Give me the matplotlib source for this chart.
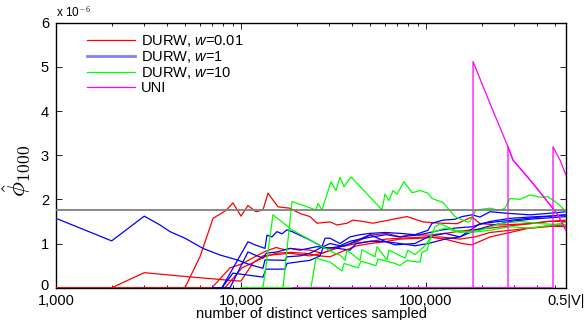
import matplotlib
matplotlib.use("Agg")
import matplotlib.pyplot as plt
import matplotlib.transforms as mtransforms
from matplotlib.lines import Line2D
from matplotlib.ticker import LogLocator, NullFormatter, FixedLocator

plt.rcParams['font.family'] = ['Liberation Sans', 'DejaVu Sans']
plt.rcParams['mathtext.fontset'] = 'cm'
plt.rcParams['mathtext.it'] = 'Liberation Sans:italic'
plt.rcParams['mathtext.rm'] = 'Liberation Sans'

# values are in units of 1e-6
true_phi = 1.76
x_max = 571300  # 0.5|V|

# DURW, w=0.01
red_1_n = [1000, 2000, 3000, 5110, 7060, 9050, 10000, 11610, 13150, 15460, 18400, 20840, 23600,
           27410, 34290, 41840, 49820, 60800, 72370, 102500, 126700, 156500, 177300, 221800,
           284500, 351600, 451000, 571300]
red_1_v = [0, 0, 0.34, 0.25, 0.20, 0.16, 0.15, 0.56, 0.72, 0.75, 0.78, 0.75, 0.72,
           0.78, 0.92, 1.00, 1.05, 1.10, 1.12, 1.15, 1.10, 1.00, 0.97, 1.15,
           1.25, 1.34, 1.38, 1.42]
red_2_n = [1000, 4980, 6000, 7060, 8300, 9050, 10000, 10910, 12050, 13150, 13990, 15850, 18400,
           20840, 23600, 25750, 30280, 33030, 37410, 40310, 45660, 51710, 66320, 78970, 96340,
           119000, 147100, 177300, 195900, 251200, 364900, 456600, 571300]
red_2_v = [0, 0, 0.70, 1.57, 1.75, 1.92, 1.62, 1.86, 1.72, 1.76, 2.14, 1.83, 1.80,
           1.68, 1.61, 1.46, 1.49, 1.42, 1.46, 1.53, 1.50, 1.46, 1.55, 1.61, 1.49,
           1.46, 1.45, 1.60, 1.45, 1.42, 1.45, 1.50, 1.50]
red_3_n = [1000, 6970, 8720, 10130, 11900, 13480, 15460, 17290, 18400, 23600, 27410, 30280,
           34290, 42360, 49820, 61540, 72370, 81950, 102500, 126700, 152700, 177300, 221800,
           284500, 364900, 456600, 571300]
red_3_v = [0, 0, 0.45, 0.54, 0.70, 0.82, 0.91, 0.86, 0.89, 0.85, 0.78, 0.85,
           0.93, 1.04, 1.19, 1.23, 1.15, 1.20, 1.19, 1.23, 1.28, 1.31, 1.35,
           1.40, 1.45, 1.50, 1.53]
red_4_n = [1000, 8190, 10130, 11900, 13480, 15460, 18400, 22180, 26730, 30280, 34290, 42360,
           49820, 61540, 72370, 92810, 119000, 152700, 184100, 221800, 284500, 364900,
           456600, 571300]
red_4_v = [0, 0, 0.45, 0.59, 0.70, 0.78, 0.80, 0.78, 0.72, 0.70, 0.80, 0.95,
           1.00, 1.05, 1.10, 1.12, 1.15, 1.10, 1.15, 1.25, 1.30, 1.35,
           1.40, 1.38]

# DURW, w=1
blue_1_n = [1000, 2000, 3000, 3650, 4130, 4980, 6230, 7700, 9520, 11190, 13150, 13480, 17290,
            17730, 20840, 23600, 27750, 30280, 34290, 38830, 43980, 49820, 60800, 68000, 87200,
            102500, 126700, 152700, 172900, 195900, 251200, 322200, 413300, 571300]
blue_1_v = [1.57, 1.06, 1.62, 1.42, 1.27, 1.12, 0.89, 0.74, 0.63, 0.52, 0.44, 0.63, 0.62,
            0.70, 0.72, 0.78, 0.93, 1.00, 0.95, 1.05, 1.10, 1.20, 1.04, 0.97, 1.00,
            1.15, 1.23, 1.15, 1.30, 1.45, 1.50, 1.55, 1.60, 1.65]
blue_2_n = [7060, 7890, 10910, 11900, 13480, 13820, 14710, 15650, 16660, 17730, 18870, 23600,
            27410, 28460, 30280, 34290, 38830, 43980, 49820, 60050, 72370, 87200, 102500,
            107800, 123600, 143500, 156500, 177300, 195900, 221800, 284500, 364900, 451000,
            571300]
blue_2_v = [0, 0, 1.04, 0.97, 0.89, 1.19, 1.15, 1.27, 1.22, 1.31, 1.27, 1.08,
            0.93, 1.12, 1.12, 1.00, 1.15, 1.20, 1.23, 1.25, 1.23, 1.20, 1.30,
            1.46, 1.53, 1.55, 1.61, 1.65, 1.60, 1.72, 1.68, 1.65, 1.68,
            1.72]
blue_3_n = [7060, 8720, 10910, 11900, 13150, 13650, 15650, 18400, 20840, 25750, 30280, 36500,
            43980, 51070, 60800, 72370, 92810, 119000, 143500, 177300, 221800, 284500,
            364900, 456600, 571300]
blue_3_v = [0, 0, 0.81, 0.74, 0.67, 0.78, 0.81, 0.89, 0.85, 0.93, 0.90, 0.95,
            1.10, 1.15, 1.20, 1.15, 1.20, 1.30, 1.35, 1.38, 1.50, 1.57,
            1.60, 1.62, 1.65]
blue_4_n = [7060, 7890, 9050, 13150, 13650, 17290, 17730, 23600, 26730, 27750, 32220, 38830,
            41840, 49820, 60800, 72370, 87200, 102500, 126700, 152700, 184100, 221800,
            284500, 364900, 456600, 571300]
blue_4_v = [0, 0, 0.33, 0.24, 0.42, 0.42, 0.55, 0.62, 0.72, 0.90, 0.90, 0.85,
            1.00, 1.05, 1.04, 1.00, 0.95, 1.00, 1.10, 1.15, 1.30, 1.40,
            1.50, 1.55, 1.58, 1.61]

# DURW, w=10
green_1_n = [10000, 13150, 14890, 18870, 27410, 32220, 34290, 36500, 37410, 43980, 45100, 53010,
             54350, 61540, 63100, 77030, 79950, 87200, 98760, 106400, 111900, 119000, 143500,
             172900, 221800, 284500, 364900, 456600, 571300]
green_1_v = [0, 0, 1.65, 1.31, 0.93, 0.78, 0.74, 0.62, 0.85, 0.62, 0.86, 0.70,
             0.93, 0.63, 0.85, 0.67, 0.85, 0.75, 0.95, 1.15, 1.38, 1.45, 1.30,
             1.25, 1.30, 1.38, 1.35, 1.40, 1.48]
green_2_n = [10000, 23890, 25430, 30280, 35150, 36050, 42900, 44530, 53670, 55030, 68000, 72370,
             78970, 82970, 92810, 95140, 101250, 107800, 126700, 152700, 195900, 251200,
             322200, 413300, 571300]
green_2_v = [0, 0, 0.67, 0.58, 0.38, 0.55, 0.45, 0.60, 0.50, 0.65, 0.55, 0.50,
             0.62, 0.60, 0.58, 0.80, 0.85, 1.25, 1.35, 1.25, 1.30, 1.45,
             1.50, 1.45, 1.42]
green_3_n = [10000, 16870, 18870, 22180, 25430, 26080, 27410, 30660, 32620, 34290, 36050, 39340,
             48600, 57850, 60050, 63100, 66320, 69710, 76080, 84000, 92810, 102500, 107800,
             123600, 143500, 166600, 172900, 186300, 221800, 251200, 267300, 284500, 322200,
             364900, 413300, 456600, 517000, 571300]
green_3_v = [0, 0, 1.95, 1.85, 1.76, 1.91, 1.76, 2.40, 2.20, 2.50, 2.29, 2.51,
             2.10, 1.76, 2.12, 1.97, 2.20, 2.12, 2.40, 2.15, 2.20, 2.14, 2.02,
             1.93, 1.61, 1.49, 1.50, 1.76, 1.80, 1.75, 1.80, 2.02, 2.00,
             2.10, 2.05, 2.06, 1.90, 1.72]

# UNI
uni_1_n = [19000, 179600, 179600, 221800, 277500, 295300, 378700, 510600, 571300]
uni_1_v = [0, 0, 5.12, 4.17, 3.19, 2.89, 2.36, 1.68, 1.30]
uni_2_n = [19000, 277500, 277500, 295300, 378700, 510600, 571300]
uni_2_v = [0, 0, 3.19, 2.89, 2.36, 1.68, 1.30]
uni_3_n = [19000, 485900, 485900, 530100, 571300]
uni_3_v = [0, 0, 3.19, 2.89, 2.55]
uni_4_n = [19000, 571300]
uni_4_v = [0, 0]

x_ticks = [1000, 10000, 100000, x_max]
x_tick_labels = ['1,000', '10,000', '100,000', '0.5|V|']

red, blue, green, magenta = '#ff0000', '#0000ff', '#00ff00', '#ff00ff'
lw = 0.9

fig = plt.figure(figsize=(5.86, 3.2), dpi=100)
ax = fig.add_axes([56 / 586, 1 - 287.7 / 320, 510 / 586, 265 / 320])

for n, v in [(red_1_n, red_1_v), (red_2_n, red_2_v), (red_3_n, red_3_v), (red_4_n, red_4_v)]:
    ax.plot(n, v, color=red, lw=lw, zorder=3)
for n, v in [(blue_1_n, blue_1_v), (blue_2_n, blue_2_v), (blue_3_n, blue_3_v), (blue_4_n, blue_4_v)]:
    ax.plot(n, v, color=blue, lw=lw, zorder=3)
for n, v in [(green_1_n, green_1_v), (green_2_n, green_2_v), (green_3_n, green_3_v)]:
    ax.plot(n, v, color=green, lw=lw, zorder=3)
for n, v in [(uni_4_n, uni_4_v), (uni_1_n, uni_1_v), (uni_2_n, uni_2_v), (uni_3_n, uni_3_v)]:
    ax.plot(n, v, color=magenta, lw=lw, zorder=3)

ax.axhline(true_phi, color='#808080', lw=1.3, zorder=3.5)

ax.set_xscale('log')
ax.set_xlim(1000, x_max)
ax.set_ylim(0, 6)
ax.xaxis.set_major_locator(FixedLocator(x_ticks))
ax.set_xticklabels(x_tick_labels)
ax.xaxis.set_minor_locator(LogLocator(base=10, subs=range(2, 10), numticks=20))
ax.xaxis.set_minor_formatter(NullFormatter())
ax.set_yticks(range(7))

ax.tick_params(which='both', direction='in', top=True, right=True, labelsize=10.5)
ax.tick_params(axis='x', pad=4.5)
ax.tick_params(axis='y', pad=5)
ax.tick_params(which='major', length=4.5, width=0.6)
ax.tick_params(which='minor', length=2.5, width=0.6)
for s in ax.spines.values():
    s.set_linewidth(1.0)

# nudge the "0" label up a little so it clears "1,000"
zero_lbl = ax.yaxis.get_major_ticks()[0].label1
zero_lbl.set_transform(zero_lbl.get_transform()
                       + mtransforms.ScaledTranslation(0, 2 / 72, fig.dpi_scale_trans))

ax.set_xlabel('number of distinct vertices sampled', fontsize=10.5, labelpad=-0.5)
ax.set_ylabel(r'$\hat{\phi}_{1000}$', fontsize=18)
ax.yaxis.set_label_coords(-0.045, 0.44)
ax.text(0, 1.012, r'x 10$^{-6}$', transform=ax.transAxes, fontsize=8.5, ha='left', va='bottom')

handles = [Line2D([], [], color=red, lw=lw),
           Line2D([], [], color='#7f7fff', lw=2.0),
           Line2D([], [], color=green, lw=lw),
           Line2D([], [], color=magenta, lw=lw)]
labels = ['DURW, $\\mathit{w}$=0.01', 'DURW, $\\mathit{w}$=1', 'DURW, $\\mathit{w}$=10', 'UNI']
leg = ax.legend(handles, labels, loc='upper left', bbox_to_anchor=(0.060, 0.962), frameon=False,
                fontsize=10.5, handlelength=3.3, handletextpad=0.4, labelspacing=0.0,
                borderpad=0, borderaxespad=0)
for t in leg.get_texts():
    t.set_math_fontfamily('custom')

fig.savefig('out.png', dpi=100)
